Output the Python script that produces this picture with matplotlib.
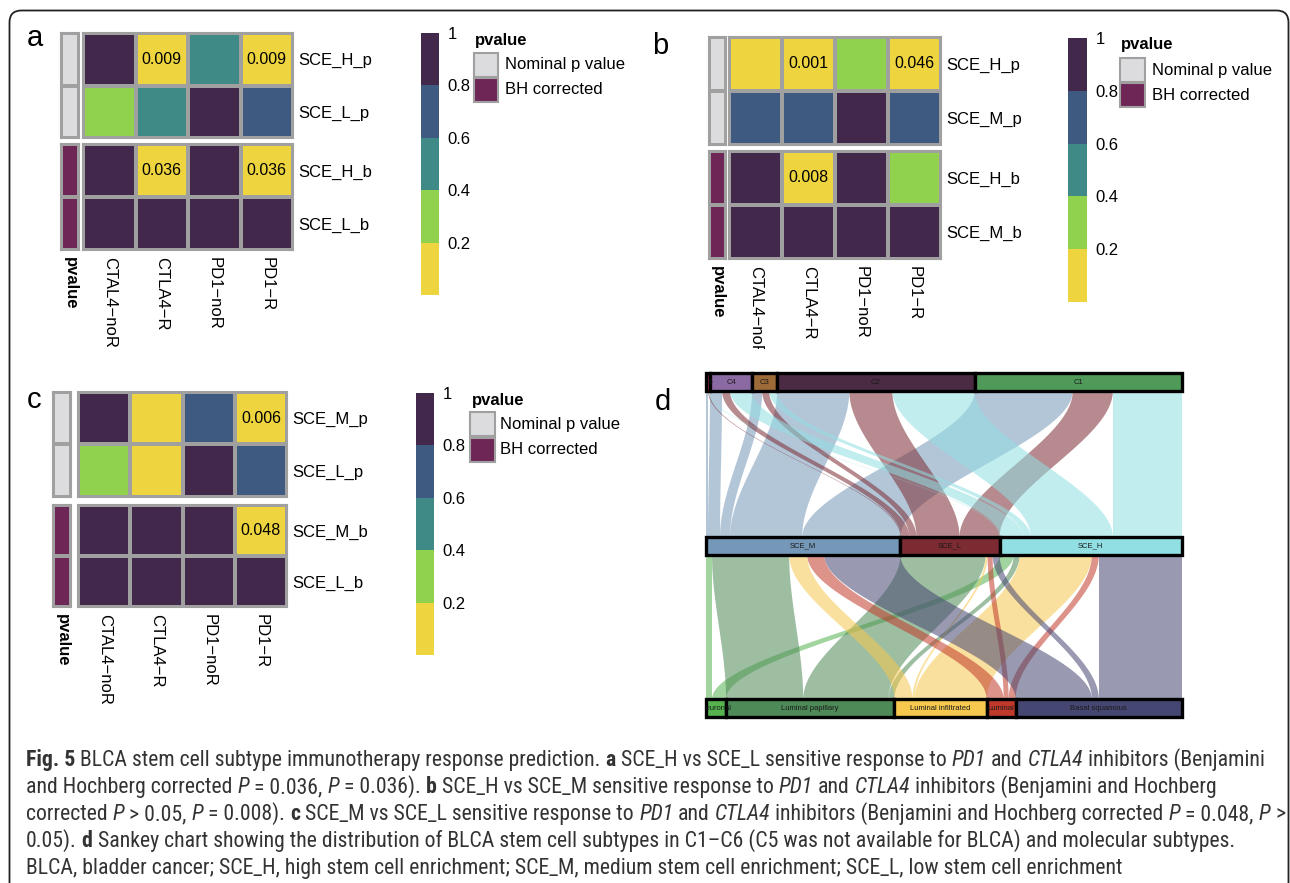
import numpy as np
import matplotlib
matplotlib.use("Agg")
import matplotlib.pyplot as plt
from matplotlib.colors import ListedColormap, BoundaryNorm
from matplotlib.patches import Rectangle, FancyBboxPatch, Polygon
from matplotlib.cm import ScalarMappable
from matplotlib.transforms import Bbox
from matplotlib import font_manager

W, H = 1290, 883

# ---- heatmap data (p values) ----
drugs = ["CTAL4\u2212noR", "CTLA4\u2212R", "PD1\u2212noR", "PD1\u2212R"]

rows_a = ["SCE_H_p", "SCE_L_p", "SCE_H_b", "SCE_L_b"]
pval_a = [[0.90, 0.009, 0.50, 0.009],
          [0.30, 0.50, 0.90, 0.70],
          [1.00, 0.036, 1.00, 0.036],
          [1.00, 1.00, 1.00, 1.00]]

rows_b = ["SCE_H_p", "SCE_M_p", "SCE_H_b", "SCE_M_b"]
pval_b = [[0.15, 0.001, 0.30, 0.046],
          [0.70, 0.70, 0.90, 0.70],
          [1.00, 0.008, 1.00, 0.30],
          [1.00, 1.00, 1.00, 1.00]]

rows_c = ["SCE_M_p", "SCE_L_p", "SCE_M_b", "SCE_L_b"]
pval_c = [[0.90, 0.15, 0.70, 0.006],
          [0.30, 0.15, 0.90, 0.70],
          [1.00, 1.00, 1.00, 0.048],
          [1.00, 1.00, 1.00, 1.00]]

# ---- sankey data ----
immune = ["C6", "C4", "C3", "C2", "C1"]
sce = ["SCE_M", "SCE_L", "SCE_H"]
molec = ["Neuronal", "Luminal papillary", "Luminal infiltrated", "Luminal", "Basal squamous"]
# sample counts: immune subtype x SCE subtype
immune_sce = [[2, 1, 1],
              [12, 8, 22],
              [10, 7, 8],
              [72, 43, 82],
              [98, 40, 69]]
# sample counts: SCE subtype x molecular subtype
sce_molec = [[6, 77, 18, 17, 76],
             [0, 85, 2, 5, 7],
             [14, 6, 72, 7, 83]]

immune_col = ["#b8334c", "#8b6aa3", "#9e6b38", "#4b2a44", "#4f9a58"]
sce_col = ["#7598b9", "#7b2b31", "#91dfe2"]
molec_col = ["#55b24f", "#4e8a57", "#f6c84e", "#c1392b", "#464672"]

# ---- styles ----
pcols = ["#eed540", "#90d14e", "#3f8a87", "#3e5a80", "#42284a"]
pcmap = ListedColormap(pcols)
pnorm = BoundaryNorm([0, 0.2, 0.4, 0.6, 0.8, 1.0], 5, clip=True)
anno_cmap = ListedColormap(["#dcdcdf", "#6e2657"])
GRID = "#a0a0a0"
HM_FONT = ["Liberation Sans", "DejaVu Sans"]


def pick_caption_font():
    # a narrow/condensed face for the legend text, if one is installed
    found = {}
    for f in font_manager.fontManager.ttflist:
        if ("condensed" in str(f.stretch) or "Condensed" in f.name
                or "Narrow" in f.name) and f.style == "normal":
            found.setdefault(f.name, []).append(f.stretch)
    pref = ["Liberation Sans Narrow", "Roboto Condensed", "Open Sans Condensed",
            "Noto Sans Condensed", "Noto Sans", "Open Sans", "DejaVu Sans Condensed",
            "DejaVu Sans", "Roboto", "Lato", "Inter"]
    for nm in pref:
        if nm in found:
            st = "condensed" if any("condensed" in str(s) for s in found[nm]) else "normal"
            return nm, st
    if found:
        nm = sorted(found)[0]
        return nm, "condensed"
    return "DejaVu Sans", "normal"


CAP_FONT, CAP_STRETCH = pick_caption_font()

plt.rcParams["font.family"] = HM_FONT

fig = plt.figure(figsize=(W / 100, H / 100), dpi=100)

bg = fig.add_axes([0, 0, 1, 1])
bg.set_xlim(0, W)
bg.set_ylim(H, 0)
bg.axis("off")

bg.add_patch(FancyBboxPatch((9.5, 10.5), 1279, 920,
                            boxstyle="round,pad=0,rounding_size=12",
                            fill=False, ec="#222222", lw=1.3, clip_on=False))


def px_axes(x0, y0, x1, y1):
    return fig.add_axes([x0 / W, 1 - y1 / H, (x1 - x0) / W, (y1 - y0) / H])


def heatmap(rows, vals, anno_x, main_x, groups, clip_first=None):
    vals = np.array(vals, float)
    kinds = [r.split("_")[-1] for r in rows]
    for gi, (y0, y1) in enumerate(groups):
        idx = [i for i in range(len(rows)) if (kinds[i] == "p") == (gi == 0)]
        sub = vals[idx]
        ax = px_axes(main_x[0], y0, main_x[1], y1)
        ax.pcolormesh(sub, cmap=pcmap, norm=pnorm, edgecolors=GRID, linewidth=1.5)
        ax.set_xlim(0, sub.shape[1])
        ax.set_ylim(len(idx), 0)
        for sp in ax.spines.values():
            sp.set_edgecolor(GRID)
            sp.set_linewidth(1.5)
        ax.yaxis.tick_right()
        ax.set_yticks(np.arange(len(idx)) + 0.5, [rows[i] for i in idx])
        ax.set_xticks([])
        ax.tick_params(length=0, labelsize=12, pad=3.5)
        for r in range(sub.shape[0]):
            for c in range(sub.shape[1]):
                if sub[r, c] < 0.05:
                    ax.text(c + 0.5, r + 0.5, f"{sub[r, c]:.3f}", ha="center",
                            va="center", fontsize=11.5)

        an = px_axes(anno_x[0], y0, anno_x[1], y1)
        an.pcolormesh(np.full((len(idx), 1), gi), cmap=anno_cmap, vmin=0, vmax=1,
                      edgecolors=GRID, linewidth=1.5)
        an.set_xlim(0, 1)
        an.set_ylim(len(idx), 0)
        an.set_xticks([])
        an.set_yticks([])
        for sp in an.spines.values():
            sp.set_edgecolor(GRID)
            sp.set_linewidth(1.5)

        if gi == 1:
            for c, lab in enumerate(drugs):
                t = ax.annotate(lab, (c + 0.5, 0), xycoords=("data", "axes fraction"),
                                xytext=(0, -5), textcoords="offset points",
                                rotation=-90, ha="center", va="top", fontsize=12,
                                annotation_clip=False)
                if c == 0 and clip_first is not None:
                    t.set_clip_box(Bbox.from_extents(0, H - clip_first, W, H))
                    t.set_clip_on(True)
            an.annotate("pvalue", (0.5, 0), xycoords="axes fraction",
                        xytext=(0, -5), textcoords="offset points", rotation=-90,
                        ha="center", va="top", fontsize=12, fontweight="bold",
                        annotation_clip=False)


def legends(cb_box, title_xy, sw_x, sw_ys, lab_x):
    cax = px_axes(*cb_box)
    cb = fig.colorbar(ScalarMappable(norm=pnorm, cmap=pcmap), cax=cax,
                      ticks=[0.2, 0.4, 0.6, 0.8, 1.0])
    cb.set_ticklabels(["0.2", "0.4", "0.6", "0.8", "1"])
    cb.outline.set_visible(False)
    cax.minorticks_off()
    cax.tick_params(which="both", length=0, labelsize=12, pad=6)
    bg.text(title_xy[0], title_xy[1], "pvalue", fontsize=12, fontweight="bold",
            va="center", ha="left")
    for (y0, y1), col, lab in zip(sw_ys, anno_cmap.colors,
                                  ["Nominal p value", "BH corrected"]):
        bg.add_patch(Rectangle((sw_x[0], y0), sw_x[1] - sw_x[0], y1 - y0,
                               facecolor=col, edgecolor=GRID, lw=1.5))
        bg.text(lab_x, (y0 + y1) / 2, lab, fontsize=12, va="center", ha="left")


# panel a
heatmap(rows_a, pval_a, (61, 79), (83, 293), [(33, 138), (144, 250)])
legends((421, 33, 439, 295), (475, 41), (474, 498), [(53, 77), (78, 102)], 505)
# panel b
heatmap(rows_b, pval_b, (709, 726), (729, 941), [(37, 145), (151, 259)], clip_first=349)
legends((1068, 38, 1087, 302), (1121, 45), (1120, 1145), [(58, 82), (83, 107)], 1152)
# panel c
heatmap(rows_c, pval_c, (53, 71), (78, 287), [(392, 497), (505, 607)])
legends((416, 393, 434, 655), (472, 400), (470, 495), [(412, 436), (438, 462)], 500)

for lab, x, y in [("a", 27, 46), ("b", 652, 54), ("c", 27, 408), ("d", 655, 410)]:
    bg.text(x, y, lab, fontsize=21, va="baseline", ha="left")

# ---- panel d: sankey ----
sk = px_axes(706, 372, 1182, 720)
total = float(np.sum(immune_sce))
sk.set_xlim(0, total)
sk.set_ylim(720, 372)
sk.axis("off")

bar_top = [373, 537, 699]
bar_h = 18


def draw_band(ax, xs, xt, ys, yt, color):
    t = np.linspace(0, 1, 80)
    s = t * t * (3 - 2 * t)
    y = ys + (yt - ys) * t
    left = xs[0] + (xt[0] - xs[0]) * s
    right = xs[1] + (xt[1] - xs[1]) * s
    pts = np.column_stack([np.concatenate([left, right[::-1]]),
                           np.concatenate([y, y[::-1]])])
    ax.add_patch(Polygon(pts, closed=True, facecolor=color, edgecolor="none",
                         alpha=0.55))


def draw_flows(ax, M, y_src, y_tgt, colors):
    M = np.array(M, float)
    n, m = M.shape
    src_start = np.concatenate([[0], np.cumsum(M.sum(1))[:-1]])
    tgt_start = np.concatenate([[0], np.cumsum(M.sum(0))[:-1]])
    xs, xt = {}, {}
    for i in range(n):
        pos = src_start[i]
        for j in range(m):
            xs[i, j] = (pos, pos + M[i, j])
            pos += M[i, j]
    for j in range(m):
        pos = tgt_start[j]
        for i in range(n):
            xt[i, j] = (pos, pos + M[i, j])
            pos += M[i, j]
    for j in range(m):
        for i in range(n):
            if M[i, j] > 0:
                draw_band(ax, xs[i, j], xt[i, j], y_src, y_tgt, colors[j])


def draw_bar(ax, sizes, names, colors, ytop):
    edges = np.concatenate([[0], np.cumsum(sizes)])
    for k, (nm, col) in enumerate(zip(names, colors)):
        ax.add_patch(Rectangle((edges[k], ytop), sizes[k], bar_h, facecolor=col,
                               edgecolor="black", lw=2.4, clip_on=False, zorder=3))
        ax.text((edges[k] + edges[k + 1]) / 2, ytop + bar_h / 2, nm, fontsize=5.5,
                ha="center", va="center", color="#1a1a1a", zorder=4, clip_on=True)


draw_flows(sk, immune_sce, bar_top[0] + bar_h, bar_top[1], sce_col)
draw_flows(sk, sce_molec, bar_top[1] + bar_h, bar_top[2], molec_col)
draw_bar(sk, np.sum(immune_sce, axis=1), immune, immune_col, bar_top[0])
draw_bar(sk, np.sum(immune_sce, axis=0), sce, sce_col, bar_top[1])
draw_bar(sk, np.sum(sce_molec, axis=0), molec, molec_col, bar_top[2])

# ---- caption ----
N, B, I = "normal", "bold", "italic"
caption = [
    [("Fig. 5", B), (" BLCA stem cell subtype immunotherapy response prediction. ", N),
     ("a", B), (" SCE_H vs SCE_L sensitive response to ", N), ("PD1", I), (" and ", N),
     ("CTLA4", I), (" inhibitors (Benjamini", N)],
    [("and Hochberg corrected ", N), ("P", I), (" = 0.036, ", N), ("P", I),
     (" = 0.036). ", N), ("b", B), (" SCE_H vs SCE_M sensitive response to ", N),
     ("PD1", I), (" and ", N), ("CTLA4", I), (" inhibitors (Benjamini and Hochberg", N)],
    [("corrected ", N), ("P", I), (" > 0.05, ", N), ("P", I), (" = 0.008). ", N),
     ("c", B), (" SCE_M vs SCE_L sensitive response to ", N), ("PD1", I), (" and ", N),
     ("CTLA4", I), (" inhibitors (Benjamini and Hochberg corrected ", N), ("P", I),
     (" = 0.048, ", N), ("P", I), (" >", N)],
    [("0.05). ", N), ("d", B),
     (" Sankey chart showing the distribution of BLCA stem cell subtypes in C1\u2013C6 "
      "(C5 was not available for BLCA) and molecular subtypes.", N)],
    [("BLCA, bladder cancer; SCE_H, high stem cell enrichment; SCE_M, medium stem cell "
      "enrichment; SCE_L, low stem cell enrichment", N)],
]
line_ends = [1268, 1218, 1276, 1222]

renderer = fig.canvas.get_renderer()


def style_kw(st):
    kw = {"family": CAP_FONT, "fontstretch": CAP_STRETCH}
    if st == B:
        kw["fontweight"] = "bold"
    if st == I:
        kw["fontstyle"] = "italic"
    return kw


def text_w(s, size, st):
    t = bg.text(0, 0, s, fontsize=size, **style_kw(st))
    w = t.get_window_extent(renderer).width
    t.remove()
    return w


def draw_line(pieces, x, y, size, draw=True):
    sw = text_w("a a", size, N) - text_w("aa", size, N)
    for s, st in pieces:
        core = s.strip(" ")
        lead = len(s) - len(s.lstrip(" "))
        trail = len(s) - len(s.rstrip(" "))
        x += lead * sw
        if core:
            if draw:
                bg.text(x, y, core, fontsize=size, va="baseline", ha="left",
                        color="#333333", **style_kw(st))
            x += text_w(core, size, st)
        x += trail * sw
    return x


x0 = 26
trial = 13.0
sizes = [trial * (end - x0) / (draw_line(line, x0, 0, trial, draw=False) - x0)
         for line, end in zip(caption, line_ends)]
cap_size = min(np.median(sizes), min(sizes) * 1.01)
for k, line in enumerate(caption):
    draw_line(line, x0, 766 + 27 * k, cap_size)

fig.savefig("out.png", dpi=100)
